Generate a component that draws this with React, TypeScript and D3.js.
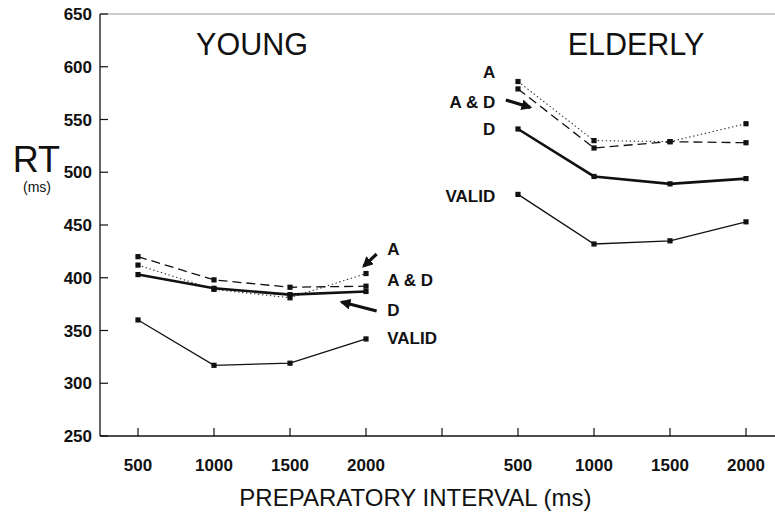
import React from "react";
import * as d3 from "d3";

// preparatory intervals (ms), shown once per age group
const intervals = [500, 1000, 1500, 2000];
const groups = ["YOUNG", "ELDERLY"];
const yTicks = [250, 300, 350, 400, 450, 500, 550, 600, 650];

// RT (ms) per condition
const youngA = [412, 389, 381, 404];
const youngAD = [420, 398, 391, 392];
const youngD = [403, 390, 384, 387];
const youngValid = [360, 317, 319, 342];

const elderlyA = [586, 530, 529, 546];
const elderlyAD = [579, 523, 529, 528];
const elderlyD = [541, 496, 489, 494];
const elderlyValid = [479, 432, 435, 453];

const conditions = ["A", "A & D", "D", "VALID"];

// label anchors per group (value on the RT axis)
const youngLabelRT = [427, 398, 370, 343];
const elderlyLabelRT = [595, 567, 541, 478];

const width = 775;
const height = 514;

const App = () => {
  // slot index: 0..3 young, 4 gap tick, 5..8 elderly
  const x = d3.scaleLinear().domain([-0.5, 8.5]).range([100, 784]);
  const y = d3.scaleLinear().domain([250, 650]).range([436, 14]);

  const styles = [
    { dash: "1.4,2.6", w: 1.1, color: "#333" },
    { dash: "9,5", w: 1.3, color: "#111" },
    { dash: null, w: 2.6, color: "#111" },
    { dash: null, w: 1.3, color: "#111" },
  ];

  const series = [
    { offset: 0, rows: [youngA, youngAD, youngD, youngValid] },
    { offset: 5, rows: [elderlyA, elderlyAD, elderlyD, elderlyValid] },
  ];

  const line = d3
    .line<[number, number]>()
    .x((d) => x(d[0]))
    .y((d) => y(d[1]));

  // arrows in (slot, RT) units
  const arrows = [
    { from: [3.14, 422.5], to: [2.97, 411] },
    { from: [3.14, 368.5], to: [2.68, 377] },
    { from: [4.84, 568.5], to: [5.16, 561.5] },
  ];

  const font = "'Liberation Sans', Arial, Helvetica, sans-serif";

  return (
    <svg
      width={width}
      height={height}
      style={{ position: "absolute", left: 0, top: 0, background: "#fff" }}
      fontFamily={font}
    >
      <defs>
        <marker
          id="head"
          viewBox="0 0 10 10"
          refX="8"
          refY="5"
          markerWidth="3.4"
          markerHeight="3.4"
          orient="auto"
        >
          <path d="M0,0 L10,5 L0,10 Z" fill="#111" />
        </marker>
      </defs>

      {/* frame */}
      <line x1={x(-0.5)} x2={width} y1={y(650)} y2={y(650)} stroke="#999" strokeWidth={1} />
      <line x1={x(-0.5)} x2={x(-0.5)} y1={y(650)} y2={y(250)} stroke="#111" strokeWidth={1.3} />
      <line x1={x(-0.5)} x2={width} y1={y(250)} y2={y(250)} stroke="#111" strokeWidth={1.3} />

      {/* y ticks */}
      {yTicks.map((t) => (
        <g key={t}>
          <line x1={x(-0.5)} x2={x(-0.5) + 8} y1={y(t)} y2={y(t)} stroke="#111" strokeWidth={1.2} />
          <text
            x={x(-0.5) - 8}
            y={y(t)}
            dy="0.36em"
            textAnchor="end"
            fontSize={17}
            fontWeight="bold"
            fill="#111"
          >
            {t}
          </text>
        </g>
      ))}

      {/* x ticks */}
      {d3.range(9).map((i) => (
        <line key={i} x1={x(i)} x2={x(i)} y1={y(250)} y2={y(250) - 8} stroke="#111" strokeWidth={1.2} />
      ))}
      {series.map((s) =>
        intervals.map((v, i) => (
          <text
            key={`${s.offset}-${v}`}
            x={x(s.offset + i)}
            y={471}
            textAnchor="middle"
            fontSize={17}
            fontWeight="bold"
            fill="#111"
          >
            {v}
          </text>
        ))
      )}

      {/* axis titles */}
      <text x={x(3.65)} y={506} textAnchor="middle" fontSize={24} fill="#111">
        PREPARATORY INTERVAL (ms)
      </text>
      <text x={60} y={172} textAnchor="end" fontSize={36} fill="#111">
        RT
      </text>
      <text x={37} y={192} textAnchor="middle" fontSize={14} fill="#111">
        (ms)
      </text>

      {/* group titles */}
      {groups.map((g, gi) => (
        <text
          key={g}
          x={x(gi * 5 + 1.5) + (gi === 1 ? 4 : 0)}
          y={y(611)}
          textAnchor="middle"
          fontSize={30.5}
          fill="#111"
        >
          {g}
        </text>
      ))}

      {/* lines and markers */}
      {series.map((s) =>
        s.rows.map((vals, ci) => {
          const pts = vals.map((v, i) => [s.offset + i, v] as [number, number]);
          const st = styles[ci];
          return (
            <g key={`${s.offset}-${ci}`}>
              <path
                d={line(pts) || ""}
                fill="none"
                stroke={st.color}
                strokeWidth={st.w}
                strokeDasharray={st.dash || undefined}
              />
              {pts.map((p, i) => (
                <rect
                  key={i}
                  x={x(p[0]) - 2.6}
                  y={y(p[1]) - 2.6}
                  width={5.2}
                  height={5.2}
                  fill="#111"
                />
              ))}
            </g>
          );
        })
      )}

      {/* condition labels */}
      {conditions.map((c, i) => (
        <text
          key={`y-${c}`}
          x={x(3.28)}
          y={y(youngLabelRT[i])}
          dy="0.36em"
          textAnchor="start"
          fontSize={17}
          fontWeight="bold"
          fill="#111"
        >
          {c}
        </text>
      ))}
      {conditions.map((c, i) => (
        <text
          key={`e-${c}`}
          x={x(4.7)}
          y={y(elderlyLabelRT[i])}
          dy="0.36em"
          textAnchor="end"
          fontSize={17}
          fontWeight="bold"
          fill="#111"
        >
          {c}
        </text>
      ))}

      {/* arrows */}
      {arrows.map((a, i) => (
        <line
          key={i}
          x1={x(a.from[0])}
          y1={y(a.from[1])}
          x2={x(a.to[0])}
          y2={y(a.to[1])}
          stroke="#111"
          strokeWidth={3.2}
          markerEnd="url(#head)"
        />
      ))}
    </svg>
  );
};

export default App;
